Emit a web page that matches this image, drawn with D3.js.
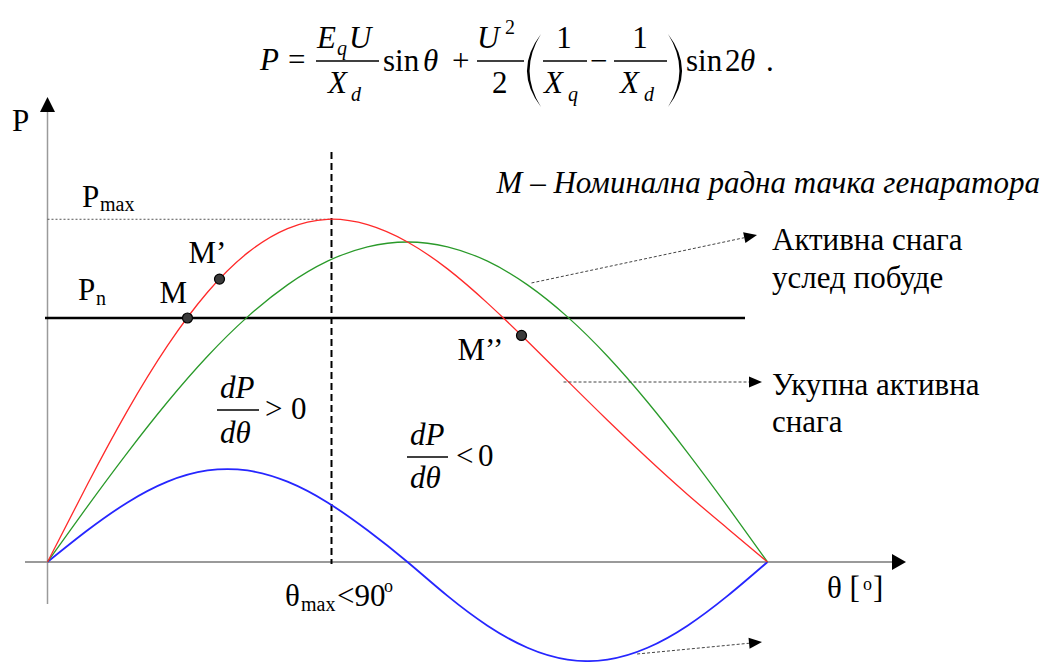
<!DOCTYPE html>
<html>
<head>
<meta charset="utf-8">
<script src="https://cdn.jsdelivr.net/npm/d3@7"></script>
<style>
  html, body { margin: 0; padding: 0; background: #fff; }
  svg text { font-family: "Liberation Serif", "Times New Roman", "DejaVu Serif", serif; }
</style>
</head>
<body>
<svg id="chart" width="1050" height="662"></svg>
<script>
// Load angle θ in degrees
const thetaDeg = [0, 10, 20, 30, 40, 50, 60, 70, 80, 90, 100, 110, 120, 130, 140, 150, 160, 170, 180];
// Total active power (red)
const totalPower = [0, 24.3, 47.3, 67.6, 84.3, 96.6, 104.2, 107.1, 105.4, 100, 91.6, 80.9, 69.0, 56.6, 44.3, 32.4, 21.1, 10.5, 0];
// Active power due to excitation (green)
const excitationPower = [0, 17.4, 34.2, 50.0, 64.3, 76.6, 86.6, 94.0, 98.5, 100, 98.5, 94.0, 86.6, 76.6, 64.3, 50.0, 34.2, 17.4, 0];
// Reluctance power term, sin 2θ (blue)
const reluctancePower = [0, 9.9, 18.6, 25.1, 28.6, 28.6, 25.1, 18.6, 9.9, 0, -10.6, -19.9, -26.8, -30.5, -30.5, -26.8, -19.9, -10.6, 0];

const nominalPower = 76.25;
const maxPower = 107.1;
const thetaAtMax = 71;

// Operating points on the total power curve
const pointNames = ["M", "M’", "M’’"];
const pointTheta = [35, 43, 118.5];
const pointPower = [76.25, 88.4, 70.8];

// Leader lines from curves to their descriptions (start on the curve, in data units)
const leaderTheta = [121, 129, 147.4];
const leaderPower = [87.2, 56.25, -28.75];

const FONT = "'Liberation Serif', 'Times New Roman', 'DejaVu Serif', serif";
const svg = d3.select("#chart");
const x = d3.scaleLinear().domain([0, 180]).range([47.5, 767.5]);
const y = d3.scaleLinear().domain([0, 100]).range([562, 242]);

// ---- axes ----
const axisColor = "#9a9a9a";
svg.append("line").attr("x1", x(0)).attr("x2", x(0)).attr("y1", 604).attr("y2", 108)
  .attr("stroke", axisColor).attr("stroke-width", 1.5);
svg.append("path").attr("d", `M${x(0)},97 L${x(0) - 7.5},112 L${x(0) + 7.5},112 Z`).attr("fill", "#000");
svg.append("line").attr("x1", 25).attr("x2", 894).attr("y1", y(0)).attr("y2", y(0))
  .attr("stroke", axisColor).attr("stroke-width", 2);
svg.append("path").attr("d", `M906,${y(0)} L892,${y(0) - 8} L892,${y(0) + 8} Z`).attr("fill", "#000");

// ---- guide lines ----
svg.append("line").attr("x1", x(0)).attr("x2", x(thetaAtMax)).attr("y1", y(maxPower)).attr("y2", y(maxPower))
  .attr("stroke", "#555").attr("stroke-width", 1).attr("stroke-dasharray", "2,2");
svg.append("line").attr("x1", x(thetaAtMax)).attr("x2", x(thetaAtMax)).attr("y1", 152).attr("y2", y(0) + 2)
  .attr("stroke", "#000").attr("stroke-width", 2).attr("stroke-dasharray", "7,4");
svg.append("line").attr("x1", 45).attr("x2", 745).attr("y1", y(nominalPower)).attr("y2", y(nominalPower))
  .attr("stroke", "#000").attr("stroke-width", 2.5);

// ---- curves ----
const line = d3.line().x((d, i) => x(thetaDeg[i])).y(d => y(d)).curve(d3.curveNatural);
svg.append("path").attr("d", line(reluctancePower)).attr("fill", "none").attr("stroke", "#2626ff").attr("stroke-width", 1.8);
svg.append("path").attr("d", line(excitationPower)).attr("fill", "none").attr("stroke", "#2a9a2a").attr("stroke-width", 1.3);
svg.append("path").attr("d", line(totalPower)).attr("fill", "none").attr("stroke", "#ff2a2a").attr("stroke-width", 1.3);

// ---- leader lines with arrowheads ----
const leaderEnds = [[757, 235], [762, 382], [762, 642]];
leaderTheta.forEach((t, i) => {
  const x1 = x(t), y1 = y(leaderPower[i]);
  const [x2, y2] = leaderEnds[i];
  const ang = Math.atan2(y2 - y1, x2 - x1);
  const len = 13, hw = 5.5;
  const bx = x2 - len * Math.cos(ang), by = y2 - len * Math.sin(ang);
  svg.append("line").attr("x1", x1).attr("y1", y1).attr("x2", bx).attr("y2", by)
    .attr("stroke", "#444").attr("stroke-width", 1).attr("stroke-dasharray", "3,2");
  const px = -Math.sin(ang) * hw, py = Math.cos(ang) * hw;
  svg.append("path").attr("d", `M${x2},${y2} L${bx + px},${by + py} L${bx - px},${by - py} Z`).attr("fill", "#000");
});

// ---- helper for text ----
function txt(xp, yp, s, size, italic, anchor) {
  const t = svg.append("text").attr("x", xp).attr("y", yp)
    .attr("font-family", FONT).attr("font-size", size).text(s);
  if (italic) t.attr("font-style", "italic");
  if (anchor) t.attr("text-anchor", anchor);
  return t;
}
function bar(x1, x2, yb) {
  svg.append("line").attr("x1", x1).attr("x2", x2).attr("y1", yb).attr("y2", yb)
    .attr("stroke", "#000").attr("stroke-width", 1.3);
}
function paren(xl, xr, yt, yb, left) {
  const ym = (yt + yb) / 2;
  if (left) {
    const c1 = 2 * xl - xr, c2 = 2 * (xl + 2.6) - xr;
    svg.append("path").attr("d", `M${xr},${yt} Q${c1},${ym} ${xr},${yb} Q${c2},${ym} ${xr},${yt} Z`).attr("fill", "#000");
  } else {
    const c1 = 2 * xr - xl, c2 = 2 * (xr - 2.6) - xl;
    svg.append("path").attr("d", `M${xl},${yt} Q${c1},${ym} ${xl},${yb} Q${c2},${ym} ${xl},${yt} Z`).attr("fill", "#000");
  }
}

const fs = 31, fsub = 20;

// ---- operating points ----
const labelOffsets = [[-28, -15], [-31, -16], [-64, 25]];
pointTheta.forEach((t, i) => {
  const cx = x(t), cy = y(pointPower[i]);
  svg.append("circle").attr("cx", cx).attr("cy", cy).attr("r", 5)
    .attr("fill", "#3a3a3a").attr("stroke", "#000").attr("stroke-width", 1.2);
  txt(cx + labelOffsets[i][0], cy + labelOffsets[i][1], pointNames[i], fs, false);
});

// ---- formula: P = EqU/Xd sinθ + U²/2 (1/Xq − 1/Xd) sin2θ. ----
txt(260, 70, "P", fs, true);
txt(288, 70, "=", fs, false);
txt(317, 48, "E", fs, true);
txt(337, 55, "q", fsub, true);
txt(349, 48, "U", fs, true);
bar(316, 379, 61);
txt(328, 93, "X", fs, true);
txt(351, 101, "d", fsub, true);
txt(383, 71, "sin", fs, false);
txt(423, 71, "θ", fs, true);
txt(452, 71, "+", fs, false);
txt(477, 48, "U", fs, true);
txt(505, 34, "2", fsub, false);
bar(477, 524, 61);
txt(492, 93, "2", fs, false);
paren(527, 541, 34, 107, true);
txt(564, 48, "1", fs, false, "middle");
bar(543, 587, 61);
txt(544, 93, "X", fs, true);
txt(568, 101, "q", fsub, true);
txt(590, 71, "−", fs, false);
txt(640, 48, "1", fs, false, "middle");
bar(614, 667, 61);
txt(620, 93, "X", fs, true);
txt(644, 101, "d", fsub, true);
paren(668, 682, 34, 107, false);
txt(686, 71, "sin", fs, false);
txt(725, 71, "2", fs, false);
txt(740, 71, "θ", fs, true);
txt(766, 71, ".", fs, false);

// ---- axis labels ----
txt(12, 131, "P", fs, false);
txt(827, 598, "θ [", fs, false);
txt(863, 590, "o", 18, false);
txt(873, 598, "]", fs, false);
txt(285, 606, "θ", fs, false);
txt(301, 611, "max", fsub, false);
txt(337, 606, "<90", fs, false);
txt(384, 592, "o", 18, false);

// ---- power level labels ----
txt(82, 207, "P", fs, false);
txt(100, 211, "max", fsub, false);
txt(78, 300, "P", fs, false);
txt(96, 305, "n", fsub, false);

// ---- derivative regions ----
txt(220, 398, "dP", fs, true);
bar(217, 259, 410);
txt(220, 443, "dθ", fs, true);
txt(265, 419, ">", fs, false);
txt(291, 419, "0", fs, false);

txt(410, 445, "dP", fs, true);
bar(407, 448, 457);
txt(410, 488, "dθ", fs, true);
txt(456, 466, "<", fs, false);
txt(478, 466, "0", fs, false);

// ---- descriptions ----
txt(1040, 193, "M – Номинална радна тачка генаратора", fs, true, "end");
txt(772, 250, "Активна снага", fs, false);
txt(772, 288, "услед побуде", fs, false);
txt(772, 395, "Укупна активна", fs, false);
txt(772, 432, "снага", fs, false);
</script>
</body>
</html>
